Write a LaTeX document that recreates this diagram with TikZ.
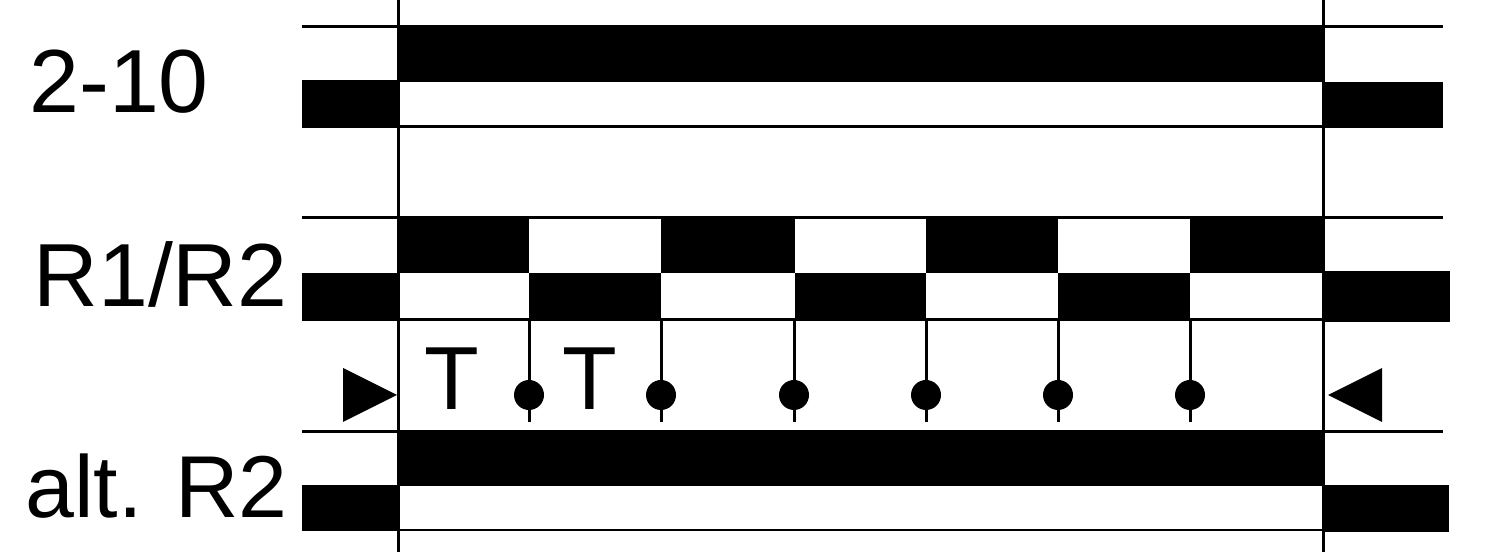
\documentclass[tikz,border=0pt]{standalone}
\usepackage{fontspec}
\setmainfont{Liberation Sans}
\usepackage{tikz}

\begin{document}
\begin{tikzpicture}	[x=0.1mm,y=-0.1mm,line width=0.85pt]

	\useasboundingbox (0,0) rectangle (1500,552);
	%\draw[gray,step=100] (0,0) grid (1500,552);

	\node [anchor=base west,inner sep=0pt,font=\fontsize{25.5}{30}\selectfont] (lbl210) at (28,113) {2-10};
	\node [anchor=base west,inner sep=0pt,font=\fontsize{25.5}{30}\selectfont] (lblR) at (32,307) {R1/R2};
	\node [anchor=base west,inner sep=0pt,font=\fontsize{25}{30}\selectfont] (lblalt) at (24,518) {alt. R2};

	% row 2-10
	\draw (302,27) -- (1443,27);
	\draw (302,127) -- (1443,127);
	\fill (302,80) rectangle (398,127);
	\fill (398,27) rectangle (1323,82);
	\fill (1323,82) rectangle (1443,127);

	% row R1/R2
	\draw (302,218) -- (1443,218);
	\draw (302,320) -- (1443,320);
	\fill (302,273) rectangle (398,320);
	\fill (398,218) rectangle (529,273);
	\fill (529,273) rectangle (661,320);
	\fill (661,218) rectangle (795,273);
	\fill (795,273) rectangle (926,320);
	\fill (926,218) rectangle (1058,273);
	\fill (1058,273) rectangle (1190,320);
	\fill (1190,218) rectangle (1323,273);
	\fill (1323,271) rectangle (1450,322);

	% pulses
	\draw (529,320) -- (529,422);
	\fill (529,395) circle (1.5mm);
	\draw (661,320) -- (661,422);
	\fill (661,395) circle (1.5mm);
	\draw (794,320) -- (794,422);
	\fill (794,395) circle (1.5mm);
	\draw (926,320) -- (926,422);
	\fill (926,395) circle (1.5mm);
	\draw (1058,320) -- (1058,422);
	\fill (1058,395) circle (1.5mm);
	\draw (1190,320) -- (1190,422);
	\fill (1190,395) circle (1.5mm);

	\node [anchor=base,inner sep=0pt,font=\fontsize{25.5}{30}\selectfont] (T1) at (452,410) {T};
	\node [anchor=base,inner sep=0pt,font=\fontsize{25.5}{30}\selectfont] (T2) at (590,410) {T};

	\fill (343,368) -- (397,395) -- (343,422) -- cycle;
	\fill (1382,368) -- (1328,395) -- (1382,422) -- cycle;

	% row alt. R2
	\draw (302,432) -- (1443,432);
	\draw (302,530) -- (1443,530);
	\fill (302,485) rectangle (398,530);
	\fill (398,432) rectangle (1323,486);
	\fill (1323,485) rectangle (1449,532);

	\draw (398,0) -- (398,552);
	\draw (1323,0) -- (1323,552);
\end{tikzpicture}
\end{document}
